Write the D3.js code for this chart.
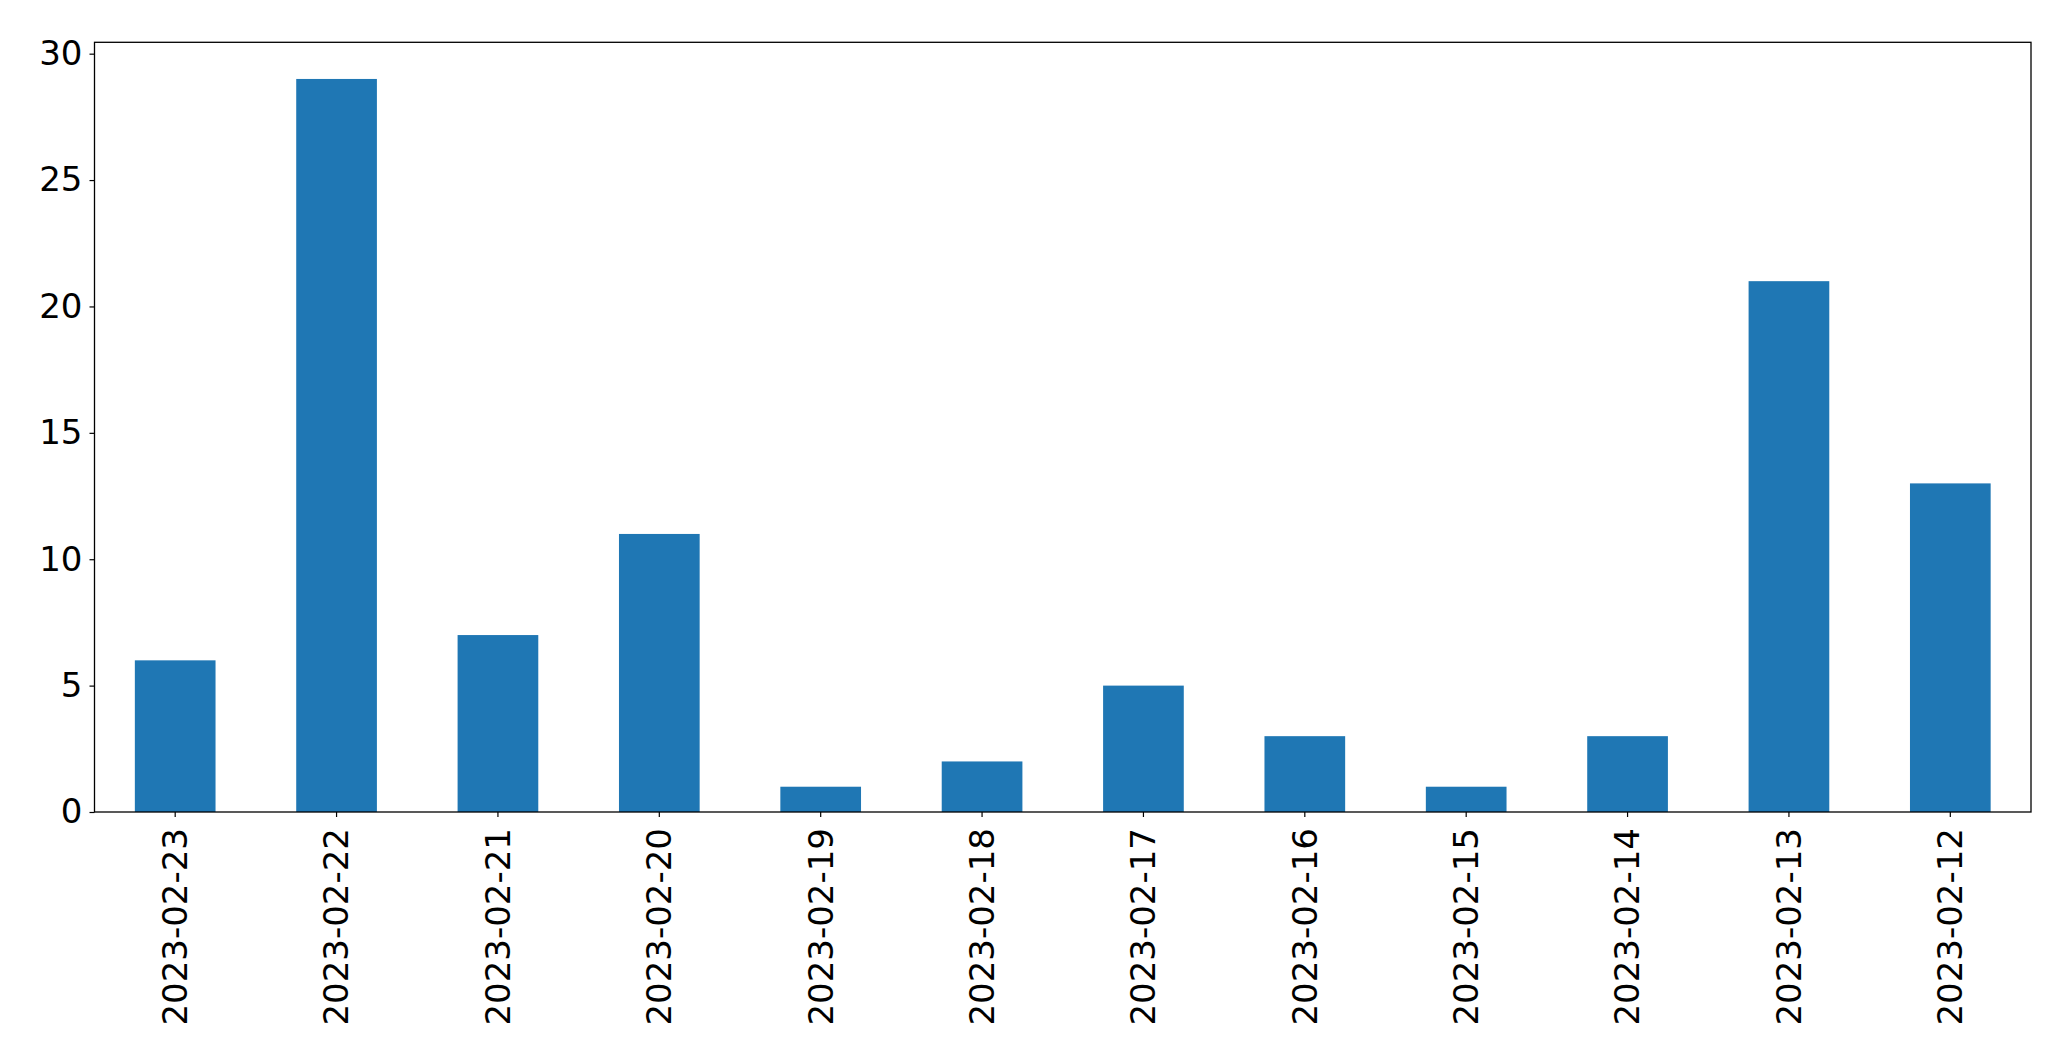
<!DOCTYPE html>
<html><head><meta charset="utf-8">
<script src="https://cdn.jsdelivr.net/npm/d3@7"></script>
<style>html,body{margin:0;padding:0;background:#fff;}</style>
</head><body>
<script>
const categories = ["2023-02-23","2023-02-22","2023-02-21","2023-02-20","2023-02-19","2023-02-18","2023-02-17","2023-02-16","2023-02-15","2023-02-14","2023-02-13","2023-02-12"];
const values = [6, 29, 7, 11, 1, 2, 5, 3, 1, 3, 21, 13];
const yTicks = [0, 5, 10, 15, 20, 25, 30];

const W = 2071, H = 1064;
const mLeft = 94.5, mRight = 2031, mTop = 42.3, mBottom = 812;
const svg = d3.select("body").append("svg").attr("width", W).attr("height", H);

const x = d3.scaleBand().domain(categories).range([mLeft, mRight]).paddingInner(0.5).paddingOuter(0.25);
const y = d3.scaleLinear().domain([0, d3.max(values) * 1.05]).range([mBottom, mTop]);

svg.append("g").selectAll("rect").data(values).join("rect")
  .attr("x", (d, i) => x(categories[i]))
  .attr("width", x.bandwidth())
  .attr("y", d => y(d))
  .attr("height", d => y(0) - y(d))
  .attr("fill", "#1f77b4");

const font = "DejaVu Sans, sans-serif";
const yAxis = svg.append("g").attr("transform", `translate(${mLeft},0)`)
  .call(d3.axisLeft(y).tickValues(yTicks).tickSize(5).tickPadding(7).tickFormat(d3.format("d")));
yAxis.select(".domain").remove();
yAxis.selectAll("text").attr("font-size", 34).attr("font-family", font).attr("fill", "#000");
yAxis.selectAll("line").attr("stroke", "#000").attr("stroke-width", 1.2);

const xAxis = svg.append("g").attr("transform", `translate(0,${mBottom})`)
  .call(d3.axisBottom(x).tickSize(5).tickPadding(0));
xAxis.select(".domain").remove();
xAxis.selectAll("line").attr("stroke", "#000").attr("stroke-width", 1.2);
xAxis.selectAll("text")
  .attr("font-size", 34).attr("font-family", font).attr("fill", "#000")
  .attr("text-anchor", "end")
  .attr("transform", "rotate(-90)")
  .attr("x", -16).attr("y", 0).attr("dy", "0.35em");

svg.append("rect").attr("x", mLeft).attr("y", mTop).attr("width", mRight - mLeft).attr("height", mBottom - mTop)
  .attr("fill", "none").attr("stroke", "#000").attr("stroke-width", 1.3);
</script>
</body></html>
